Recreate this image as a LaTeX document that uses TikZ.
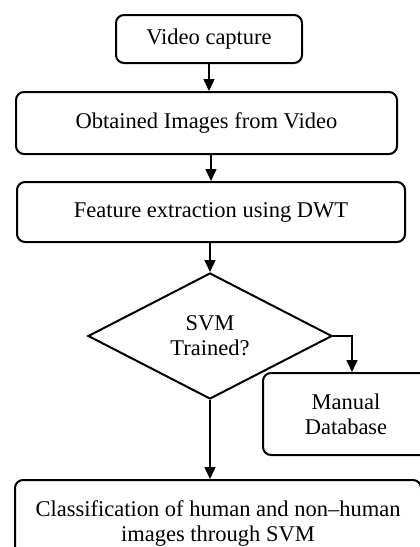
\documentclass[tikz,border=0pt]{standalone}
\usepackage{fontspec}
\setmainfont{Liberation Serif}
\usetikzlibrary{shapes.geometric,positioning,arrows.meta}

\begin{document}
\begin{tikzpicture}[x=1pt,y=-1pt,>={Triangle[width=11pt,length=12pt]},line width=1.5pt,
  font=\fontsize{22.5}{25}\selectfont,
  block/.style={draw,rounded corners=8pt,align=center,line width=2pt,inner sep=0pt},
  decision/.style={draw,diamond,align=center,line width=2pt,inner sep=0pt}]
\useasboundingbox (0,0) rectangle (420,547);
\clip (0,0) rectangle (420,547);
\node[block,minimum width=186pt,minimum height=48pt] (vid) at (209,39) {Video capture};
\node[block,minimum width=381pt,minimum height=62pt] (img) [below=27pt of vid,xshift=-2.5pt] {Obtained Images from Video};
\node[block,minimum width=388pt,minimum height=60pt] (feat) [below=26pt of img,xshift=4.5pt] {Feature extraction using DWT};
\node[decision,minimum width=244pt,minimum height=126pt] (svm) [below=29pt of feat,xshift=-1pt] {SVM\\Trained?};
\node[block,minimum width=166pt,minimum height=82pt] (db) at (346,414) {Manual\\Database};
\node[block,minimum width=406pt,minimum height=86pt] (cls) [below=79pt of svm,xshift=8pt] {Classification of human and non–human\\images through SVM};

\draw[->] (vid.south) -- (vid.south |- img.north);
\draw[->] (feat.north |- img.south) -- (feat.north);
\draw[->] (feat.south -| svm.north) -- (svm.north);
\draw[->] (svm.south) -- (svm.south |- cls.north);
\draw[->] (svm.east) -| ([xshift=6pt]db.north);
\end{tikzpicture}
\end{document}
